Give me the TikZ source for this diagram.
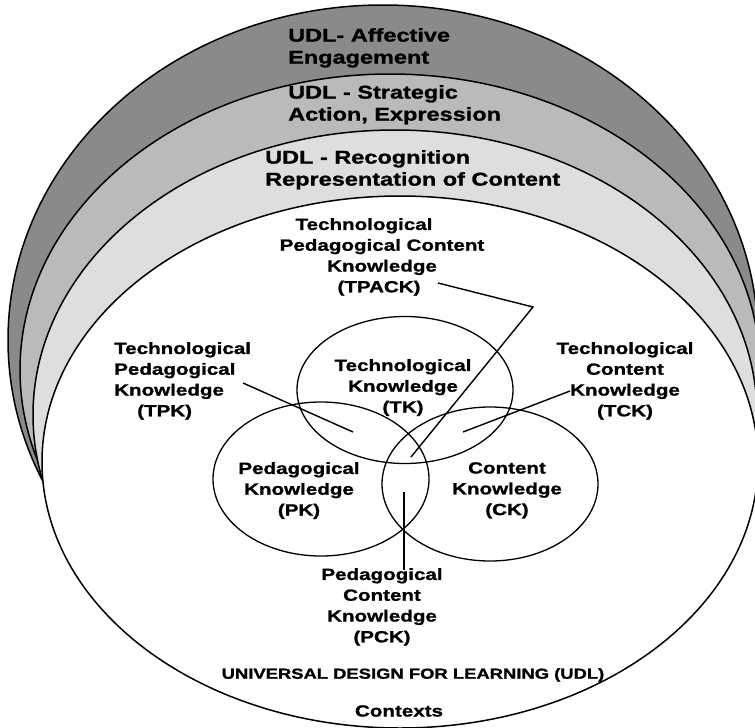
\documentclass[tikz,border=0pt]{standalone}
\usepackage{fontspec}
\setmainfont{Liberation Sans}[FakeStretch=1.27, BoldFeatures={FakeBold=1.2}]
\definecolor{dkband}{gray}{0.54}
\definecolor{mdband}{gray}{0.73}
\definecolor{ltband}{gray}{0.87}
\begin{document}
\begin{tikzpicture}[x=1pt,y=-1pt,
  band/.style={draw=black, line width=1.5pt},
  venn/.style={draw=black, line width=1.3pt},
  conn/.style={draw=black, line width=1.4pt},
  udl/.style={font=\fontsize{18.5}{22}\selectfont\bfseries, align=left, anchor=north west, inner sep=0pt},
  lab/.style={font=\fontsize{16.2}{20.8}\selectfont\bfseries, align=center, anchor=north, inner sep=0pt},
  labl/.style={lab, align=left, anchor=north west},
  small/.style={font=\fontsize{14.5}{18}\selectfont\bfseries, anchor=north, inner sep=0pt}]
\useasboundingbox (0,0) rectangle (755,728);
\clip (0,0) rectangle (755,728);
% stacked UDL discs
\draw[band, fill=dkband] (383,340) ellipse [x radius=375, y radius=335];
\draw[band, fill=mdband] (390,370) ellipse [x radius=370, y radius=296];
\draw[band, fill=ltband] (395,415) ellipse [x radius=362, y radius=285];
\draw[band, fill=white] (400,462) ellipse [x radius=358, y radius=266];
% Venn ellipses
\draw[venn] (405,390) ellipse [x radius=108, y radius=73.5];
\draw[venn] (321,479) ellipse [x radius=108, y radius=77];
\draw[venn] (490,484) ellipse [x radius=108, y radius=77];
% UDL labels
\node[udl] (affect) at (288,28) {UDL- Affective\\Engagement};
\node[udl] (strat) at (288,85) {UDL - Strategic\\Action, Expression};
\node[udl] (recog) at (265,150) {UDL - Recognition\\Representation of Content};
% knowledge labels
\node[lab] (tpack) at (382,218) {Technological\hspace*{36pt}\\Pedagogical Content\\Knowledge\\(TPACK)\hspace*{6pt}};
\node[lab] (tk) at (403,359) {Technological\\Knowledge\\(TK)};
\node[lab] (pk) at (299,462) {Pedagogical\\Knowledge\\(PK)};
\node[lab] (ck) at (507,462) {Content\\Knowledge\\(CK)};
\node[labl] (tpk) at (114,342) {Technological\\Pedagogical\\Knowledge\\\hspace*{23pt}(TPK)};
\node[lab] (tck) at (625,342) {Technological\\Content\\Knowledge\\(TCK)};
\node[lab] (pck) at (382,568) {Pedagogical\\Content\\Knowledge\\(PCK)};
\node[small] (udlname) at (413,668) {UNIVERSAL DESIGN FOR LEARNING (UDL)};
\node[lab] (ctx) at (399,705) {Contexts};
% connector points
\coordinate (tpackA) at (438,283);
\coordinate (tpackB) at (533,307);
\coordinate (tpackC) at (411,457);
\coordinate (tpkA) at (243,383);
\coordinate (tpkB) at (353,432);
\coordinate (tckA) at (570,391);
\coordinate (tckB) at (463,432);
\coordinate (pckA) at (404,570);
\coordinate (pckB) at (404,492);
\draw[conn] (tpackA) -- (tpackB) -- (tpackC);
\draw[conn] (tpkA) -- (tpkB);
\draw[conn] (tckA) -- (tckB);
\draw[conn] (pckA) -- (pckB);
\end{tikzpicture}
\end{document}
